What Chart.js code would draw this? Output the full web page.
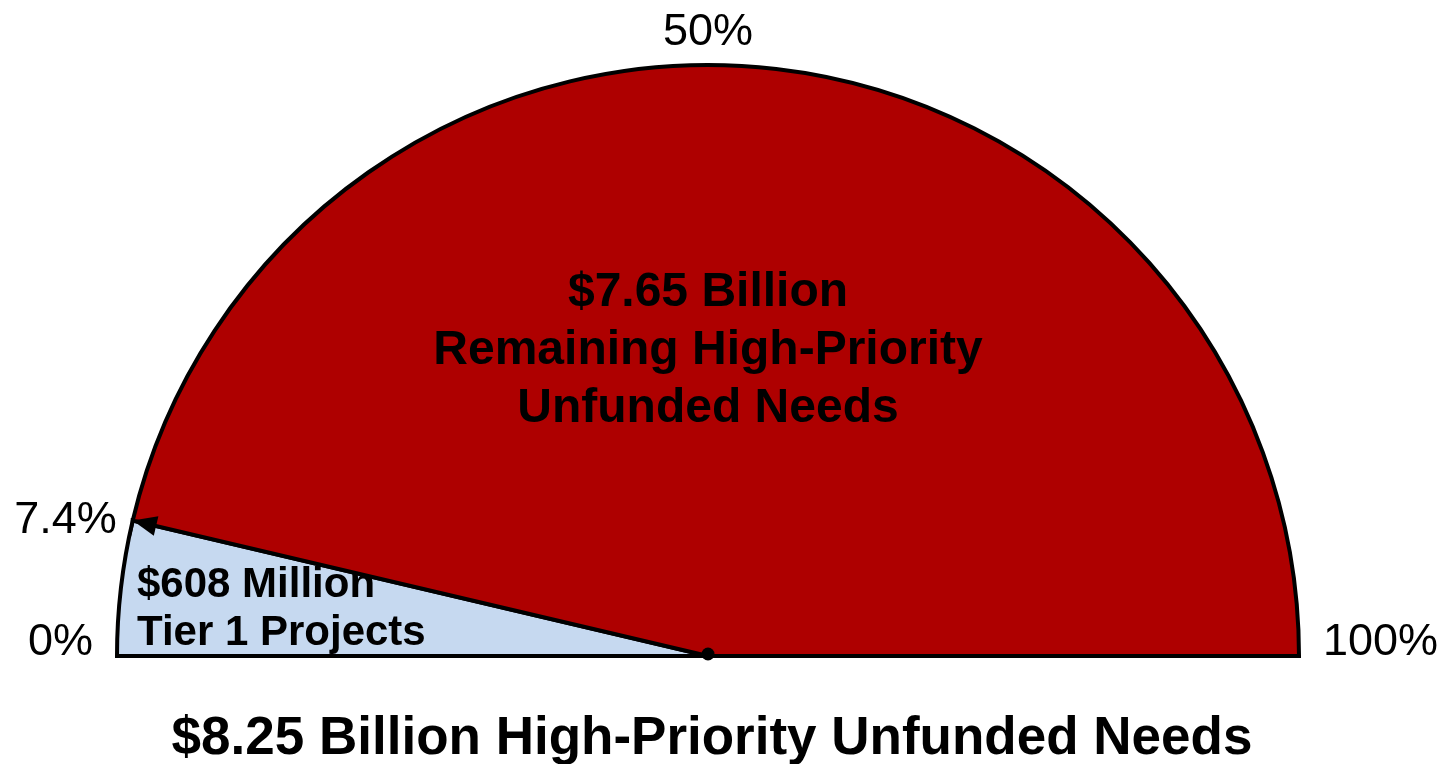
<!DOCTYPE html>
<html>
<head>
<meta charset="utf-8">
<script src="https://cdn.jsdelivr.net/npm/chart.js@4"></script>
<style>
  html, body { margin: 0; padding: 0; background: #ffffff; }
  #wrap { width: 1452px; height: 764px; position: relative; }
</style>
</head>
<body>
<div id="wrap"><canvas id="gauge"></canvas></div>
<script>
// Data (millions of dollars)
const categories = ['Tier 1 Projects', 'Remaining High-Priority Unfunded Needs'];
const amounts = [608, 7650];
const sliceLabels = [
  ['$608 Million', 'Tier 1 Projects'],
  ['$7.65 Billion', 'Remaining High-Priority', 'Unfunded Needs']
];
const percentTicks = ['0%', '7.4%', '50%', '100%'];
const chartTitle = '$8.25 Billion High-Priority Unfunded Needs';

const colors = ['#c6d9f0', '#ae0000'];

// Draw the texts, arrowhead and centre dot on top of the half pie
const overlayPlugin = {
  id: 'overlay',
  afterDatasetsDraw(chart) {
    const ctx = chart.ctx;
    const arcs = chart.getDatasetMeta(0).data;
    const cx = arcs[0].x, cy = arcs[0].y, r = arcs[0].outerRadius;
    const boundary = arcs[0].endAngle;
    const tipX = cx + Math.cos(boundary) * r;
    const tipY = cy + Math.sin(boundary) * r;

    ctx.save();
    // arrowhead at the rim
    const ang = Math.atan2(tipY - cy, tipX - cx);
    const len = 24, half = 10;
    ctx.fillStyle = '#000';
    ctx.beginPath();
    ctx.moveTo(tipX, tipY);
    ctx.lineTo(tipX - Math.cos(ang) * len - Math.sin(ang) * half, tipY - Math.sin(ang) * len + Math.cos(ang) * half);
    ctx.lineTo(tipX - Math.cos(ang) * len + Math.sin(ang) * half, tipY - Math.sin(ang) * len - Math.cos(ang) * half);
    ctx.closePath();
    ctx.fill();
    // centre dot
    ctx.beginPath();
    ctx.arc(cx, cy - 2, 6.5, 0, Math.PI * 2);
    ctx.fill();

    // percent ticks
    ctx.font = '45px "Liberation Sans", Arial, sans-serif';
    ctx.textBaseline = 'alphabetic';
    ctx.textAlign = 'right';
    ctx.fillText(percentTicks[0], cx - r - 24, cy - 1);
    ctx.fillText(percentTicks[1], tipX - 16, tipY + 12);
    ctx.textAlign = 'center';
    ctx.fillText(percentTicks[2], cx, cy - r - 20);
    ctx.textAlign = 'left';
    ctx.fillText(percentTicks[3], cx + r + 24, cy - 1);

    // slice texts
    ctx.font = 'bold 42px "Liberation Sans", Arial, sans-serif';
    ctx.textAlign = 'left';
    sliceLabels[0].forEach((t, i) => ctx.fillText(t, cx - r + 20, cy - 59 + i * 48));
    ctx.font = 'bold 48px "Liberation Sans", Arial, sans-serif';
    ctx.textAlign = 'center';
    sliceLabels[1].forEach((t, i) => ctx.fillText(t, cx, cy - 350 + i * 58));

    // title under the gauge
    ctx.font = 'bold 53px "Liberation Sans", Arial, sans-serif';
    ctx.fillText(chartTitle, cx + 4, cy + 98);
    ctx.restore();
  }
};

new Chart(document.getElementById('gauge'), {
  type: 'pie',
  data: {
    labels: categories,
    datasets: [{
      data: amounts,
      backgroundColor: colors,
      borderColor: '#000000',
      borderWidth: 4,
      borderJoinStyle: 'miter',
      borderAlign: 'center'
    }]
  },
  options: {
    responsive: true,
    maintainAspectRatio: false,
    animation: false,
    rotation: -90,
    circumference: 180,
    layout: { padding: { left: 115, right: 151, top: 63, bottom: 106 } },
    plugins: {
      legend: { display: false },
      tooltip: { enabled: false },
      title: { display: false }
    }
  },
  plugins: [overlayPlugin]
});
</script>
</body>
</html>
